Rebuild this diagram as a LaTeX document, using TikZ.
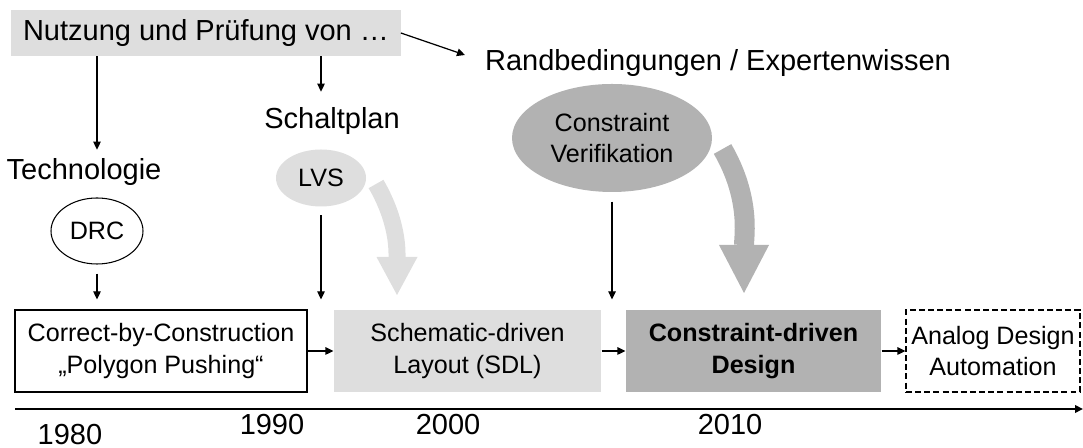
\documentclass[tikz,border=0pt]{standalone}
\usepackage{fontspec}
\setmainfont{Liberation Sans}
\usetikzlibrary{positioning, arrows.meta, shapes.geometric}

\definecolor{lightgrey}{gray}{0.87}
\definecolor{midgrey}{gray}{0.70}

\begin{document}
\begin{tikzpicture}[>={Triangle[length=1.6mm, width=1.5mm]},
		bigtext/.style={font=\fontsize{16.5}{19}\selectfont, inner sep=0pt},
		smalltext/.style={font=\fontsize{14.3}{18}\selectfont, align=center},
		stage/.style={smalltext, rectangle, minimum height=16.4mm, inner sep=0pt, line width=0.7pt},
		check/.style={smalltext, ellipse, inner sep=0pt, line width=0.6pt},
		conn/.style={->, line width=0.7pt}]
		\useasboundingbox (0, 0) rectangle (21.66, 8.96);
		% oben
		\node[bigtext, fill=lightgrey, minimum width=7.78cm, minimum height=9.2mm] (nutzung) at (4.12, 8.30) {Nutzung und Prüfung von …};
		\node[bigtext] (rand) at (14.36, 7.70) {Randbedingungen / Expertenwissen};
		\node[bigtext] (techn) at (1.68, 5.52) {Technologie};
		\node[bigtext] (schalt) at (6.64, 6.54) {Schaltplan};
		\coordinate (randarrow) at (9.30, 7.86);
		% Pruefungen
		\node[check, draw, fill=white, minimum width=1.84cm, minimum height=1.32cm] (drc) at (1.94, 4.34) {DRC};
		\node[check, fill=lightgrey, minimum width=1.80cm, minimum height=1.14cm] (lvs) at (6.42, 5.40) {LVS};
		\node[check, fill=midgrey, minimum width=4.0cm, minimum height=2.16cm] (cv) at (12.24, 6.20) {Constraint\\Verifikation};
		% Entwurfsstile
		\node[stage, draw, minimum width=5.84cm] (cbc) at (3.22, 1.94) {Correct-by-Construction\\„Polygon Pushing“};
		\node[stage, fill=lightgrey, minimum width=5.34cm] (sdl) at (9.35, 1.94) {Schematic-driven\\Layout (SDL)};
		\node[stage, fill=midgrey, minimum width=5.10cm, font=\fontsize{14.3}{18}\selectfont\bfseries] (cdd) at (15.07, 1.94) {Constraint-driven\\Design};
		\node[stage, draw, dash pattern=on 3.4pt off 1.8pt, minimum width=3.48cm] (ada) at (19.86, 1.94) {Analog Design\\Automation};
		% Zeitachse
		\coordinate (tstart) at (0.30, 0.78);
		\coordinate (tend) at (21.66, 0.78);
		\node[bigtext] (y1980) at (1.40, 0.27) {1980};
		\node[bigtext] (y1990) at (5.44, 0.46) {1990};
		\node[bigtext] (y2000) at (8.96, 0.46) {2000};
		\node[bigtext] (y2010) at (14.60, 0.46) {2010};
		\draw [->, line width=1.1pt] (tstart) -- (tend);
		% Pfeile
		\draw [conn] (nutzung.east) -- (randarrow);
		\draw [conn, shorten >=1.7mm] (nutzung.south -| drc) -- (techn.north -| drc);
		\draw [conn, shorten >=3.1mm] (nutzung.south -| lvs) -- (schalt.north -| lvs);
		\draw [conn, shorten <=1.8mm, shorten >=2mm] (drc) -- (cbc.north -| drc);
		\draw [conn, shorten <=1.6mm, shorten >=2mm] (lvs) -- (lvs |- cbc.north);
		\draw [conn, shorten <=1.8mm, shorten >=2mm] (cv) -- (cv |- cdd.north);
		\draw [conn] (cbc) -- (sdl);
		\draw [conn] (sdl) -- (cdd);
		\draw [conn] (cdd) -- (ada);
		% dicke Boegen
		\coordinate (sdltip) at (7.94, 3.06);
		\coordinate (cddtip) at (14.88, 3.10);
		\draw [lightgrey, line width=3.4mm, -{Triangle[length=7.6mm, width=8.2mm, line width=0pt]}] ([xshift=1.9mm, yshift=-1.2mm]lvs.east) to[out=-60, in=90] (sdltip);
		\draw [midgrey, line width=4mm, -{Triangle[length=9.6mm, width=10mm, line width=0pt]}] ([xshift=2mm, yshift=-2.2mm]cv.east) to[out=-60, in=90] (cddtip);
	\end{tikzpicture}
\end{document}
